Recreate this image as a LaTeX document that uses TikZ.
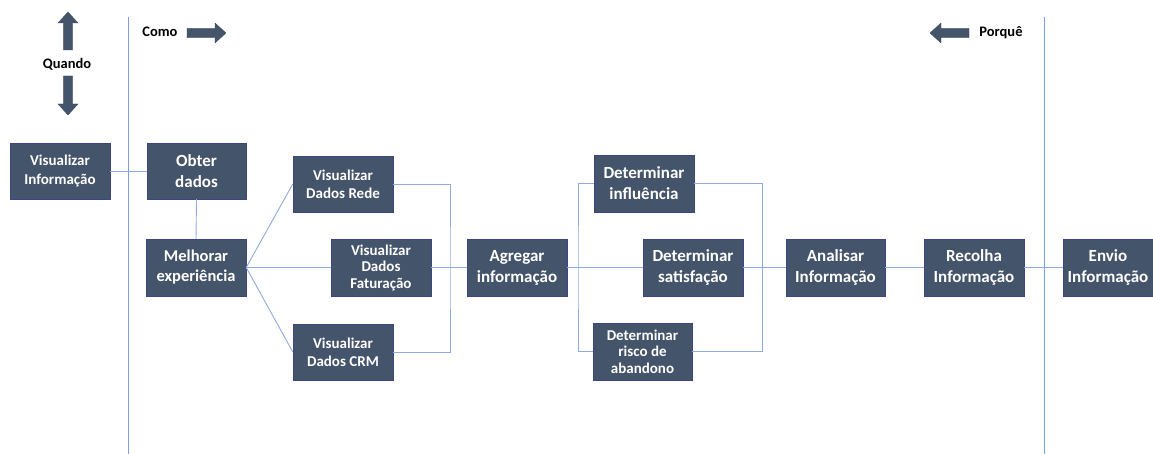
\documentclass[tikz,border=0pt]{standalone}
\usepackage{fontspec}
\setmainfont{Carlito}
\definecolor{boxfill}{HTML}{44546A}
\definecolor{conn}{HTML}{8FAADC}
\definecolor{vline}{HTML}{7F9FDB}
\definecolor{arrowc}{HTML}{44546A}
\tikzset{
  box/.style={fill=boxfill, draw=boxfill!85!blue, line width=0.4pt, text=white, align=center, inner sep=0pt, font=\bfseries},
  bigtxt/.style={font=\bfseries\fontsize{17}{21}\selectfont},
  midtxt/.style={font=\bfseries\fontsize{15}{18.3}\selectfont},
  smalltxt/.style={font=\bfseries\fontsize{15}{16.5}\selectfont},
  wire/.style={draw=conn, line width=0.9pt},
  divider/.style={draw=vline, line width=0.9pt},
  lbl/.style={font=\bfseries\fontsize{14.5}{16}\selectfont, text=black, inner sep=0pt},
  blockarrow/.style={fill=arrowc, draw=arrowc!80!black, line width=0.3pt}
}
\begin{document}
\begin{tikzpicture}[x=1pt,y=-1pt]
\useasboundingbox (0,0) rectangle (1153,454);
\clip (0,0) rectangle (1153,454);

% dividers
\draw[divider] (128,17) -- (128,454);
\draw[divider] (1044,17) -- (1044,454);

% boxes
\node[box, midtxt, minimum width=100pt, minimum height=56pt] (vinfo) at (60,171) {Visualizar\\Informação};
\node[box, bigtxt, minimum width=99pt, minimum height=56pt] (obter) at (196.5,171) {Obter\\dados};
\node[box, minimum width=100pt, minimum height=57pt, font=\bfseries\fontsize{16.5}{20}\selectfont] (melhorar) at (196,267.5) {Melhorar\\experiência};
\node[box, midtxt, minimum width=100pt, minimum height=56pt] (rede) at (343,184) {Visualizar\\Dados Rede};
\node[box, smalltxt, minimum width=100pt, minimum height=57pt] (fat) at (381,267.5) {Visualizar\\Dados\\Faturação};
\node[box, midtxt, minimum width=100pt, minimum height=56pt] (crm) at (343,352) {Visualizar\\Dados CRM};
\node[box, bigtxt, minimum width=100pt, minimum height=57pt] (agregar) at (517,267.5) {Agregar\\informação};
\node[box, bigtxt, minimum width=100pt, minimum height=57pt] (infl) at (644,183.5) {Determinar\\influência};
\node[box, bigtxt, minimum width=100pt, minimum height=57pt] (sat) at (693,267.5) {Determinar\\satisfação};
\node[box, smalltxt, minimum width=99pt, minimum height=57pt] (risco) at (642.5,351.5) {Determinar\\risco de\\abandono};
\node[box, bigtxt, minimum width=99pt, minimum height=57pt] (analisar) at (835.5,267.5) {Analisar\\Informação};
\node[box, bigtxt, minimum width=100pt, minimum height=57pt] (recolha) at (974,267.5) {Recolha\\Informação};
\node[box, bigtxt, minimum width=90pt, minimum height=57pt] (envio) at (1108,267.5) {Envio\\Informação};

% bracket coordinates
\coordinate (b1) at (450,267.5);
\coordinate (b2) at (578,267.5);
\coordinate (b3) at (762,267.5);

% connectors
\draw[wire] (vinfo.east) -- (obter.west);
\draw[wire] (obter.south) -- (melhorar.north);
\draw[wire] (melhorar.east) -- (rede.west);
\draw[wire] (melhorar.east) -- (fat.west);
\draw[wire] (melhorar.east) -- (crm.west);
\draw[wire] (rede.east) -| (b1) |- (crm.east);
\draw[wire] (fat.east) -- (agregar.west);
\draw[wire] (agregar.east) -- (sat.west);
\draw[wire] (infl.west) -| (b2) |- (risco.west);
\draw[wire] (infl.east) -| (b3) |- (risco.east);
\draw[wire] (sat.east) -- (analisar.west);
\draw[wire] (analisar.east) -- (recolha.west);
\draw[wire] (recolha.east) -- (envio.west);

% labels
\node[lbl] (quando) at (67,64) {Quando};
\node[lbl] (como) at (160,32) {Como};
\node[lbl] (porque) at (1001,33) {Porquê};

% block arrows
% up
\filldraw[blockarrow] (63.3,50) -- (72.7,50) -- (72.7,23) -- (78,23) -- (68,12) -- (58,23) -- (63.3,23) -- cycle;
% down
\filldraw[blockarrow] (63.3,76) -- (72.7,76) -- (72.7,104) -- (78,104) -- (68,115) -- (58,104) -- (63.3,104) -- cycle;
% right (Como)
\filldraw[blockarrow] (187,28.3) -- (215,28.3) -- (215,23) -- (226,33) -- (215,43) -- (215,37.7) -- (187,37.7) -- cycle;
% left (Porquê)
\filldraw[blockarrow] (969,28.3) -- (941,28.3) -- (941,23) -- (930,33) -- (941,43) -- (941,37.7) -- (969,37.7) -- cycle;
\end{tikzpicture}
\end{document}
